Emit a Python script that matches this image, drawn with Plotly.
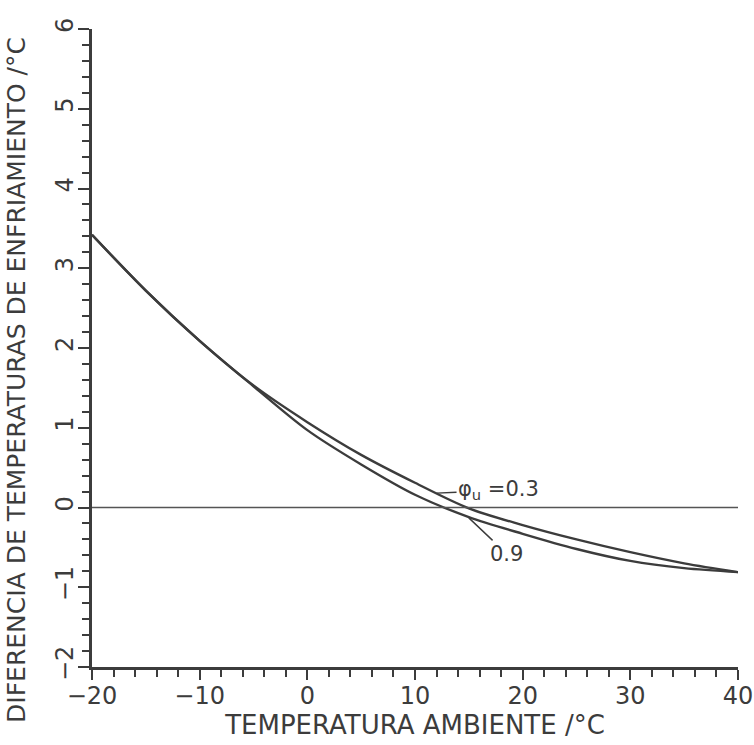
import plotly.graph_objects as go

# Data
temp_ambiente = [-20, -15, -10, -5, 0, 5, 10, 15, 20, 25, 30, 35, 40]
dif_phi_03 = [3.42, 2.72, 2.09, 1.53, 1.07, 0.66, 0.31, -0.01, -0.22, -0.40, -0.56, -0.70, -0.81]
dif_phi_09 = [3.42, 2.72, 2.09, 1.52, 0.97, 0.54, 0.16, -0.12, -0.33, -0.52, -0.67, -0.76, -0.81]

x_ticks = [-20, -10, 0, 10, 20, 30, 40]
y_ticks = [-2, -1, 0, 1, 2, 3, 4, 5, 6]

INK = "#3c3c3c"
FONT = "DejaVu Sans"

fig = go.Figure()
for ys in (dif_phi_03, dif_phi_09):
    fig.add_trace(go.Scatter(
        x=temp_ambiente, y=ys, mode="lines",
        line=dict(color=INK, width=2.4, shape="spline", smoothing=0.9),
        showlegend=False, hoverinfo="skip"))

fig.add_hline(y=0, line=dict(color="#555555", width=1.6))

fig.add_annotation(x=12.0, y=0.18, text="φ<sub>u</sub> =0.3", showarrow=True,
                   arrowhead=0, arrowwidth=1.4, arrowcolor=INK,
                   ax=62, ay=-3, font=dict(family=FONT, size=21, color=INK))
fig.add_annotation(x=15.0, y=-0.13, text="0.9", showarrow=True,
                   arrowhead=0, arrowwidth=1.4, arrowcolor=INK,
                   ax=38, ay=36, font=dict(family=FONT, size=21, color=INK))

# y-axis title placed as rotated text at the reference position
fig.add_annotation(xref="paper", yref="paper", x=0, y=0.45, xshift=-75,
                   xanchor="center", yanchor="middle", textangle=-90, showarrow=False,
                   text="DIFERENCIA DE TEMPERATURAS DE ENFRIAMIENTO /°C",
                   font=dict(family=FONT, size=25, color=INK))

fig.update_xaxes(
    range=[-20, 40], tickvals=x_ticks,
    ticktext=[f"{v}" if v >= 0 else f"−{abs(v)}" for v in x_ticks],
    showline=True, linecolor=INK, linewidth=2.5, mirror=False,
    ticks="outside", ticklen=10, tickwidth=2, tickcolor=INK,
    minor=dict(dtick=2, ticks="outside", ticklen=7, tickwidth=1.8, tickcolor=INK, showgrid=False),
    showgrid=False, zeroline=False, ticklabelstandoff=-5,
    tickfont=dict(family=FONT, size=24, color=INK),
    title=dict(text="TEMPERATURA AMBIENTE /°C", font=dict(family=FONT, size=26, color=INK), standoff=5),
)
fig.update_yaxes(
    range=[-2, 6], tickvals=y_ticks, tickangle=-90,
    showline=True, linecolor=INK, linewidth=2.5, mirror=False,
    ticks="outside", ticklen=11, tickwidth=2, tickcolor=INK,
    minor=dict(dtick=0.2, ticks="outside", ticklen=7, tickwidth=1.8, tickcolor=INK, showgrid=False),
    showgrid=False, zeroline=False, ticklabelstandoff=-4,
    tickfont=dict(family=FONT, size=24, color=INK),
)

fig.update_layout(
    width=754, height=745,
    margin=dict(l=92, r=16, t=29, b=78, autoexpand=False),
    paper_bgcolor="white", plot_bgcolor="white",
)

fig.write_html("out.html")
